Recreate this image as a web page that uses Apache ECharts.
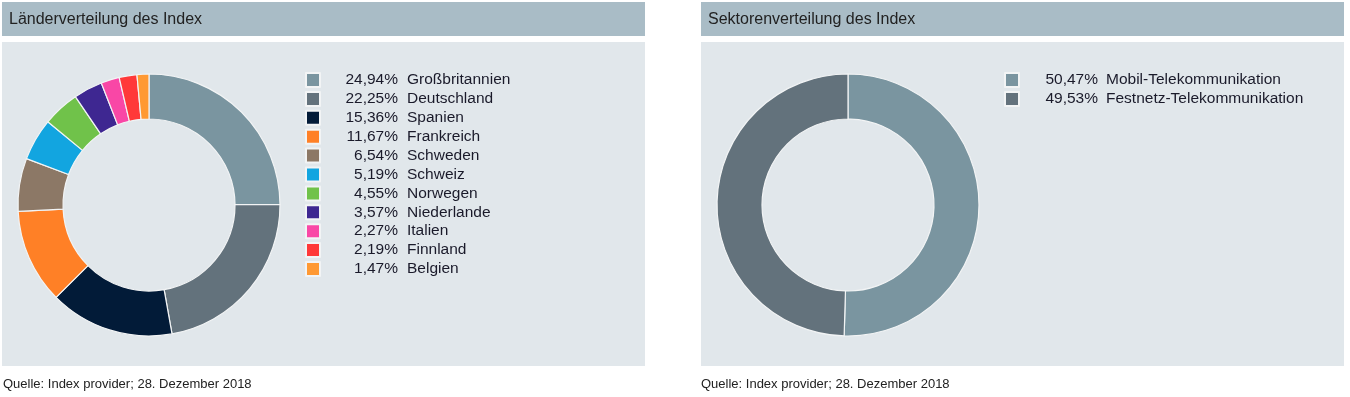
<!DOCTYPE html>
<html>
<head>
<meta charset="utf-8">
<script src="https://cdn.jsdelivr.net/npm/echarts@6/dist/echarts.min.js"></script>
<style>
html,body{margin:0;padding:0;background:#fff;}
#c{width:1350px;height:397px;}
</style>
</head>
<body>
<div id="c"></div>
<script>
// ---- data ----
var countries = ['Großbritannien','Deutschland','Spanien','Frankreich','Schweden','Schweiz','Norwegen','Niederlande','Italien','Finnland','Belgien'];
var countryShares = [24.94,22.25,15.36,11.67,6.54,5.19,4.55,3.57,2.27,2.19,1.47];
var countryColors = ['#7A95A0','#63727C','#021B38','#FF8026','#8C7866','#12A5E0','#70C24A','#3E2791','#F947A6','#FF3939','#FF9933'];
var sectors = ['Mobil-Telekommunikation','Festnetz-Telekommunikation'];
var sectorShares = [50.47,49.53];
var sectorColors = ['#7A95A0','#63727C'];
var titleLeft = 'Länderverteilung des Index';
var titleRight = 'Sektorenverteilung des Index';
var sourceText = 'Quelle: Index provider; 28. Dezember 2018';

var FONT = '"Liberation Sans", Arial, sans-serif';
var LSIZE = 15.5;
function fmt(v){ return v.toFixed(2).replace('.', ',') + '%'; }
function pieData(names, vals, cols){
  return names.map(function(n,i){ return {name:n, value:vals[i], itemStyle:{color:cols[i]}}; });
}
var ctx = document.createElement('canvas').getContext('2d');
ctx.font = LSIZE + 'px ' + FONT;
function measure(t){ return ctx.measureText(t).width; }

var chart = echarts.init(document.getElementById('c'), null, {renderer:'canvas'});

function panel(x){
  return [
    {type:'rect', shape:{x:x, y:2, width:643, height:34}, style:{fill:'#A9BCC6'}, z:-10},
    {type:'rect', shape:{x:x, y:42, width:643, height:324}, style:{fill:'#E1E7EB'}, z:-10}
  ];
}
function txt(x, y, t, size){
  return {type:'text', x:x, y:y, style:{text:t, fill:'#222', font: size+'px '+FONT, textVerticalAlign:'middle'}, z:5};
}

function legend(left, names, vals, pw, gap){
  var rich = {n:{padding:[0,0,0,gap], fontFamily:FONT, fontSize:LSIZE, color:'#1a1a2a'}};
  var idx = {};
  names.forEach(function(n,i){
    idx[n] = i;
    var pad = Math.max(0, pw - measure(fmt(vals[i])));
    rich['p'+i] = {padding:[0,0,0,pad], fontFamily:FONT, fontSize:LSIZE, color:'#1a1a2a'};
  });
  return {
    orient:'vertical', left:left, top:72, padding:0, itemWidth:14, itemHeight:14, itemGap:2.9,
    icon:'rect', selectedMode:false, data:names,
    formatter:function(n){ var i = idx[n]; return '{p'+i+'|'+fmt(vals[i])+'}{n|'+n+'}'; },
    textStyle:{ fontFamily:FONT, fontSize:LSIZE, color:'#1a1a2a', rich:rich }
  };
}

var option = {
  animation:false,
  graphic: [].concat(panel(2), panel(701), [
    txt(9, 20, titleLeft, 16),
    txt(708, 20, titleRight, 16),
    txt(3, 384, sourceText, 13),
    txt(701, 384, sourceText, 13)
  ]),
  legend:[ legend(305, countries, countryShares, 73, 9), legend(1004, sectors, sectorShares, 74, 8) ],
  series:[
    {type:'pie', center:[149,205], radius:[86,131], startAngle:90, clockwise:true,
     label:{show:false}, labelLine:{show:false}, emphasis:{disabled:true},
     itemStyle:{borderColor:'#F2F4F5', borderWidth:1.2},
     data: pieData(countries, countryShares, countryColors)},
    {type:'pie', center:[848,205], radius:[86,131], startAngle:90, clockwise:true,
     label:{show:false}, labelLine:{show:false}, emphasis:{disabled:true},
     itemStyle:{borderColor:'#F2F4F5', borderWidth:1.2},
     data: pieData(sectors, sectorShares, sectorColors)}
  ]
};
chart.setOption(option);
</script>
</body>
</html>
